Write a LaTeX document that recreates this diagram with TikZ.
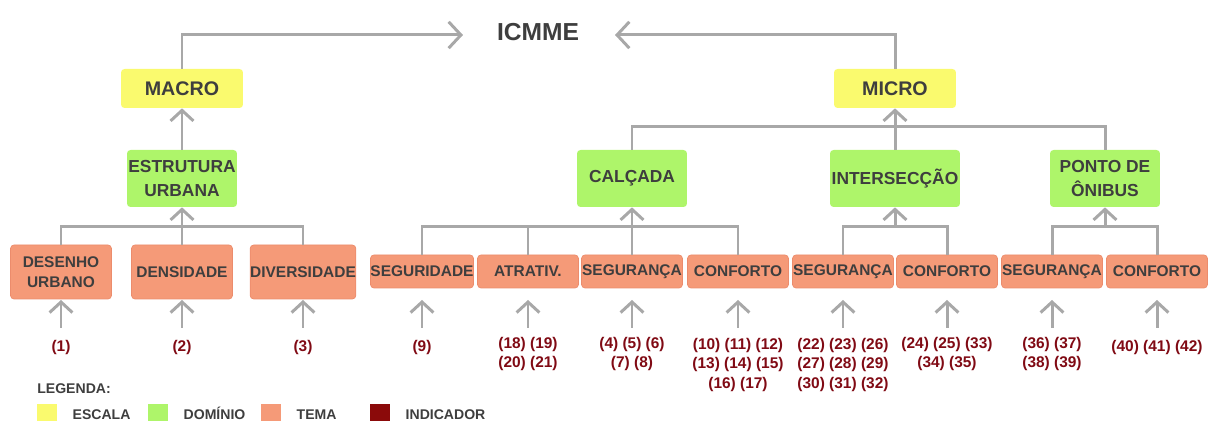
\documentclass[tikz,border=0pt]{standalone}
\usepackage{fontspec}
\setmainfont{Liberation Sans}
\usetikzlibrary{arrows.meta,positioning}
\definecolor{escalaC}{RGB}{250,250,110}
\definecolor{dominioC}{RGB}{174,245,106}
\definecolor{temaC}{RGB}{245,154,120}
\definecolor{temaD}{RGB}{236,140,108}
\definecolor{indicC}{RGB}{128,10,20}
\definecolor{swatchI}{RGB}{139,10,10}
\definecolor{txtC}{RGB}{62,62,62}
\definecolor{lineC}{RGB}{168,168,168}
\tikzset{
  box/.style={rounded corners=2pt, inner sep=0pt, align=center, text=txtC},
  escala/.style={box, fill=escalaC, minimum width=2.44cm, minimum height=0.78cm,
    font=\fontsize{11.2}{13}\selectfont\bfseries},
  dominio/.style={box, fill=dominioC, minimum width=2.2cm, minimum height=1.14cm,
    font=\fontsize{9.9}{14}\selectfont\bfseries},
  tema/.style={box, fill=temaC, draw=temaD, line width=0.4pt, minimum width=2.02cm,
    minimum height=0.66cm, font=\fontsize{8.8}{11.3}\selectfont\bfseries},
  tematall/.style={tema, minimum height=1.08cm},
  indic/.style={inner sep=0pt, align=center, text=indicC,
    font=\fontsize{8.8}{11.3}\selectfont\bfseries},
  swatch/.style={inner sep=0pt, minimum size=0.4cm},
  legtext/.style={inner sep=0pt, text height=6pt, text depth=0pt, text=txtC,
    font=\fontsize{8}{10}\selectfont\bfseries},
  conn/.style={draw=lineC, line width=1.7pt},
  arr/.style={conn, -{Straight Barb[length=6pt,width=13pt]}},
  bigarr/.style={conn, -{Straight Barb[length=7pt,width=15pt]}},
}
\begin{document}
\begin{tikzpicture}[x=0.02cm, y=-0.02cm]
  \useasboundingbox (0,0) rectangle (1208,421);
  % index
  \node[text=txtC, inner sep=0pt, font=\fontsize{14}{16}\selectfont\bfseries] at (538,32) (icmme) {ICMME};
  \coordinate (inL) at (463,35);
  \coordinate (inR) at (615,35);
  % scales
  \node[escala] at (182,88.5) (macro) {MACRO};
  \node[escala] at (895,88.5) (micro) {MICRO};
  \draw[bigarr] (macro.north) |- (inL);
  \draw[bigarr] (micro.north) |- (inR);
  % domains
  \node[dominio] at (182,178.5) (estr) {ESTRUTURA\\URBANA};
  \node[dominio] at (632,178.5) (calc) {CALÇADA};
  \node[dominio, minimum width=2.6cm] at (895,178.5) (inter) {INTERSECÇÃO};
  \node[dominio] at (1105,178.5) (ponto) {PONTO DE\\ÔNIBUS};
  \draw[arr] (estr.north) -- (macro.south);
  \coordinate (barM) at (895,127);
  \draw[conn] (calc.north) |- (barM) -| (ponto.north);
  \draw[arr] (inter.north) -- (micro.south);
  % themes
  \node[tematall] at (61,272) (desenho) {DESENHO\\URBANO};
  \node[tematall] at (182,272) (dens) {DENSIDADE};
  \node[tematall] at (303,272) (divers) {DIVERSIDADE};
  \node[tema] at (422,271.5) (segur) {SEGURIDADE};
  \node[tema] at (528,271.5) (atrat) {ATRATIV.};
  \node[tema] at (632,271.5) (segA) {SEGURANÇA};
  \node[tema] at (738,271.5) (confA) {CONFORTO};
  \node[tema] at (843,271.5) (segB) {SEGURANÇA};
  \node[tema] at (947,271.5) (confB) {CONFORTO};
  \node[tema] at (1052,271.5) (segC) {SEGURANÇA};
  \node[tema] at (1157,271.5) (confC) {CONFORTO};
  % theme bars
  \coordinate (barE) at (182,227);
  \coordinate (barC) at (632,227);
  \coordinate (barI) at (895,227);
  \coordinate (barP) at (1105,227);
  \draw[conn] (desenho.north) |- (barE) -| (divers.north);
  \draw[arr] (dens.north) -- (estr.south);
  \draw[conn] (segur.north) |- (barC) -| (confA.north);
  \draw[conn] (atrat.north) -- (atrat.north |- barC);
  \draw[arr] (segA.north) -- (calc.south);
  \draw[conn] (segB.north) |- (barI) -| (confB.north);
  \draw[arr] (barI) -- (inter.south);
  \draw[conn] (segC.north) |- (barP) -| (confC.north);
  \draw[arr] (barP) -- (ponto.south);
  % indicators
  \node[indic] at (61,348) (i1) {(1)};
  \node[indic] at (182,348) (i2) {(2)};
  \node[indic] at (303,348) (i3) {(3)};
  \node[indic] at (422,348) (i9) {(9)};
  \node[indic] at (528,354) (iAt) {(18) (19)\\(20) (21)};
  \node[indic] at (632,354) (iSA) {(4) (5) (6)\\(7) (8)};
  \node[indic] at (738,365) (iCA) {(10) (11) (12)\\(13) (14) (15)\\(16) (17)};
  \node[indic] at (843,365) (iSB) {(22) (23) (26)\\(27) (28) (29)\\(30) (31) (32)};
  \node[indic] at (947,354) (iCB) {(24) (25) (33)\\(34) (35)};
  \node[indic] at (1052,354) (iSC) {(36) (37)\\(38) (39)};
  \node[indic] at (1157,348) (iCC) {(40) (41) (42)};
  \coordinate (lo) at (0,328);
  \coordinate (hi) at (0,300);
  \foreach \t in {desenho,dens,divers,segur,atrat,segA,confA,segB,confB,segC,confC}
    \draw[arr] (\t |- lo) -- (\t |- hi);
  % legend
  \node[legtext, anchor=west] at (37,388) (leg) {LEGENDA:};
  \node[swatch, fill=escalaC] at (47,414) (sE) {};
  \node[swatch, fill=dominioC] at (158,414) (sD) {};
  \node[swatch, fill=temaC] at (271,414) (sT) {};
  \node[swatch, fill=swatchI] at (380,414) (sI) {};
  \node[legtext, right=0.3cm of sE] (lE) {ESCALA};
  \node[legtext, right=0.3cm of sD] (lD) {DOMÍNIO};
  \node[legtext, right=0.3cm of sT] (lT) {TEMA};
  \node[legtext, right=0.3cm of sI] (lI) {INDICADOR};
\end{tikzpicture}
\end{document}
